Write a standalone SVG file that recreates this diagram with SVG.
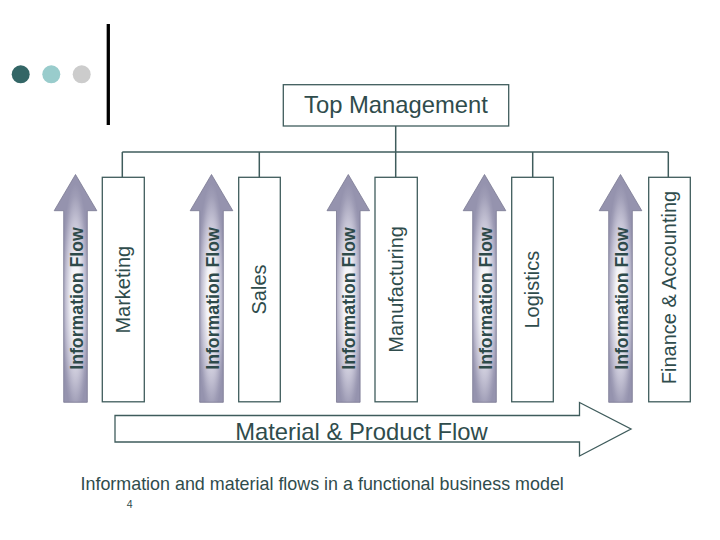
<svg xmlns="http://www.w3.org/2000/svg" width="720" height="540" viewBox="0 0 720 540">
<defs>
<radialGradient id="ig" cx="0.5" cy="0.55" r="0.5" gradientTransform="translate(0.5,0.55) scale(0.66,1.02) translate(-0.5,-0.55)">
<stop offset="0" stop-color="#FFFFFF"/>
<stop offset="0.35" stop-color="#F1F1F6"/>
<stop offset="0.68" stop-color="#C4C2D4"/>
<stop offset="0.9" stop-color="#9F9DB6"/>
<stop offset="1" stop-color="#9593AE"/>
</radialGradient>
<path id="arr" d="M0,-0.5 L21.3,35.7 L11.8,35.7 L11.8,227.3 L-11.8,227.3 L-11.8,35.7 L-21.3,35.7 Z"/>
</defs>
<style>
.box{fill:#FFFFFF;stroke:#3F5C5C;stroke-width:1.3}
.con{fill:none;stroke:#3F5C5C;stroke-width:1.5}
.ia{fill:url(#ig);stroke:#7A7892;stroke-width:0.8}
.lbl{font-family:"Liberation Sans",Arial,sans-serif;font-size:20px;fill:#2F4C4C;text-anchor:middle}
.ift{font-family:"Liberation Sans",Arial,sans-serif;font-size:17.7px;font-weight:bold;fill:#2E4A4A;text-anchor:middle}
.big{font-family:"Liberation Sans",Arial,sans-serif;font-size:23.8px;fill:#2F4C4C;text-anchor:middle}
.cap{font-family:"Liberation Sans",Arial,sans-serif;font-size:17.9px;fill:#2F4C4C}
</style>
<rect width="720" height="540" fill="#FFFFFF"/>
<g id="decor">
<circle cx="20.7" cy="74.3" r="9" fill="#336666"/>
<circle cx="51.3" cy="74.3" r="9" fill="#99CCCC"/>
<circle cx="81.7" cy="74.3" r="9" fill="#CCCCCC"/>
<line x1="108.3" y1="24" x2="108.3" y2="125" stroke="#000000" stroke-width="3.3"/>
</g>
<g id="connectors">
<line class="con" x1="395.7" y1="126" x2="395.7" y2="177.3"/>
<line class="con" x1="122.3" y1="152" x2="668.3" y2="152"/>
<line class="con" x1="122.3" y1="152" x2="122.3" y2="177.3"/>
<line class="con" x1="259.3" y1="152" x2="259.3" y2="177.3"/>
<line class="con" x1="532.7" y1="152" x2="532.7" y2="177.3"/>
<line class="con" x1="668.3" y1="152" x2="668.3" y2="177.3"/>
</g>
<g id="top-management">
<rect class="box" x="283.3" y="84.7" width="225.4" height="41.3"/>
<text class="big" x="396" y="113.3">Top Management</text>
</g>
<g id="info-flow-1">
<use href="#arr" class="ia" transform="translate(75.5,175)"/>
<text class="ift" transform="translate(82.5,298.5) rotate(-90)">Information Flow</text>
</g>
<g id="marketing">
<rect class="box" x="102.3" y="177.3" width="42" height="224.5"/>
<text class="lbl" transform="translate(130,289.7) rotate(-90)">Marketing</text>
</g>
<g id="info-flow-2">
<use href="#arr" class="ia" transform="translate(211.5,175)"/>
<text class="ift" transform="translate(218.5,298.5) rotate(-90)">Information Flow</text>
</g>
<g id="sales">
<rect class="box" x="238.7" y="177.3" width="41.6" height="224.5"/>
<text class="lbl" transform="translate(266.3,289.5) rotate(-90)">Sales</text>
</g>
<g id="info-flow-3">
<use href="#arr" class="ia" transform="translate(348.3,175)"/>
<text class="ift" transform="translate(355.3,298.5) rotate(-90)">Information Flow</text>
</g>
<g id="manufacturing">
<rect class="box" x="375" y="177.3" width="42.3" height="224.5"/>
<text class="lbl" transform="translate(402.8,289.4) rotate(-90)">Manufacturing</text>
</g>
<g id="info-flow-4">
<use href="#arr" class="ia" transform="translate(484.5,175)"/>
<text class="ift" transform="translate(491.5,298.5) rotate(-90)">Information Flow</text>
</g>
<g id="logistics">
<rect class="box" x="511.7" y="177.3" width="41.6" height="224.5"/>
<text class="lbl" transform="translate(539,289.7) rotate(-90)">Logistics</text>
</g>
<g id="info-flow-5">
<use href="#arr" class="ia" transform="translate(620.5,175)"/>
<text class="ift" transform="translate(627.5,298.5) rotate(-90)">Information Flow</text>
</g>
<g id="finance-accounting">
<rect class="box" x="648.7" y="177.3" width="41.6" height="224.5"/>
<text class="lbl" transform="translate(675.5,287.5) rotate(-90)">Finance &amp; Accounting</text>
</g>
<g id="material-flow">
<path d="M115,415.5 H579.5 V402.5 L631,429 L579.5,456 V442 H115 Z" fill="#FFFFFF" stroke="#3F5C5C" stroke-width="1.3" stroke-linejoin="miter"/>
<text class="big" x="361.5" y="439.5">Material &amp; Product Flow</text>
</g>
<g id="caption">
<text class="cap" x="80.5" y="490">Information and material flows in a functional business model</text>
<text x="126.7" y="508.3" style="font-family:'Liberation Sans',Arial,sans-serif;font-size:10.5px;fill:#2F4C4C">4</text>
</g>
</svg>
